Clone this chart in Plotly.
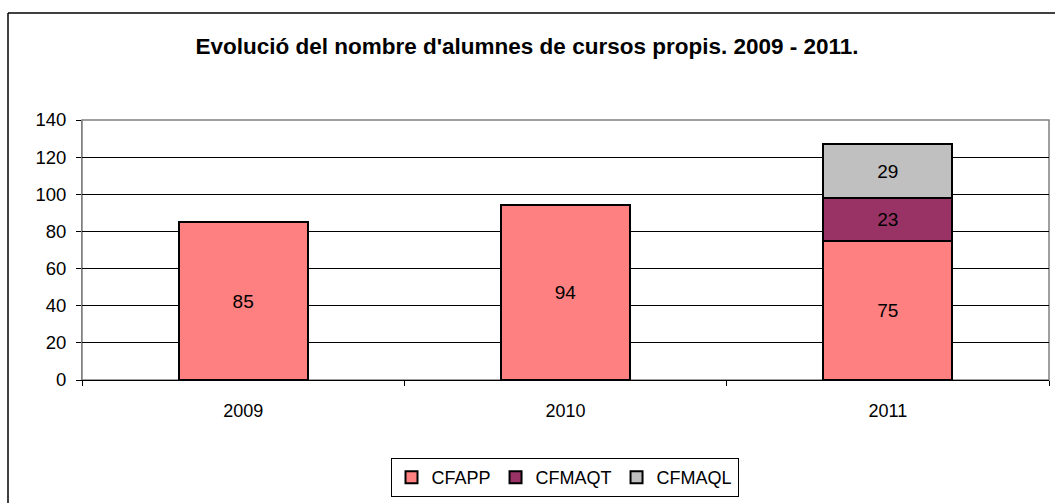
import plotly.graph_objects as go

years = ["2009", "2010", "2011"]
cfapp = [85, 94, 75]
cfmaqt = [None, None, 23]
cfmaql = [None, None, 29]
series_names = ["CFAPP", "CFMAQT", "CFMAQL"]
colors = ["#FF8080", "#993366", "#C0C0C0"]
title_text = "Evolució del nombre d'alumnes de cursos propis. 2009 - 2011."

FONT = "Liberation Sans, Arial, sans-serif"

fig = go.Figure()
for name, vals, col in zip(series_names, [cfapp, cfmaqt, cfmaql], colors):
    fig.add_trace(go.Bar(
        x=years, y=vals, name=name,
        marker=dict(color=col, line=dict(color="black", width=2)),
        text=[str(v) if v is not None else "" for v in vals],
        textposition="inside", insidetextanchor="middle",
        textfont=dict(family=FONT, size=19, color="black"),
        width=0.4,
    ))

W, H = 1055, 503
L, R, T, B = 82, 6, 120, 123
pw = W - L - R
ph = H - T - B

def px_x(p):
    return (p - L) / pw

def px_y(p):
    return (H - B - p) / ph

fig.update_layout(
    width=W, height=H,
    margin=dict(l=L, r=R, t=T, b=B, pad=0),
    barmode="stack",
    plot_bgcolor="white", paper_bgcolor="white",
    font=dict(family=FONT, size=18, color="black"),
    title=dict(text="<b>" + title_text + "</b>", x=527 / W, xref="container",
               y=1 - 46 / H, yref="container",
               yanchor="middle", xanchor="center",
               font=dict(family=FONT, size=22.5, color="black")),
    showlegend=True,
    legend=dict(orientation="h", x=px_x(564.5), xanchor="center",
                y=px_y(458), yanchor="top",
                bordercolor="black", borderwidth=1, bgcolor="white",
                font=dict(family=FONT, size=18, color="black"),
                traceorder="normal", itemwidth=30),
    xaxis=dict(showgrid=False, showline=True, linecolor="black", linewidth=1,
               ticks="outside", tickson="boundaries", ticklen=5, tickcolor="black",
               tickfont=dict(family=FONT, size=18), ticklabelstandoff=14),
    yaxis=dict(range=[0, 140], dtick=20, showgrid=True, gridcolor="black", gridwidth=1,
               showline=True, linecolor="#808080", linewidth=1,
               ticks="outside", ticklen=5, tickcolor="black",
               tickfont=dict(family=FONT, size=18.5), ticklabelstandoff=6,
               zeroline=False),
    shapes=[
        dict(type="rect", xref="paper", yref="paper", x0=0, x1=1, y0=0, y1=1,
             line=dict(color="#808080", width=1.5), layer="below"),
        dict(type="line", xref="paper", yref="paper", x0=px_x(8), x1=px_x(8),
             y0=px_y(13), y1=px_y(520), line=dict(color="black", width=1.5)),
        dict(type="line", xref="paper", yref="paper", x0=px_x(8), x1=px_x(1070),
             y0=px_y(13), y1=px_y(13), line=dict(color="black", width=1.5)),
    ],
)

fig.write_html("out.html", config={"displayModeBar": False},
               post_script="document.body.style.margin='0';document.body.style.overflow='hidden';")
